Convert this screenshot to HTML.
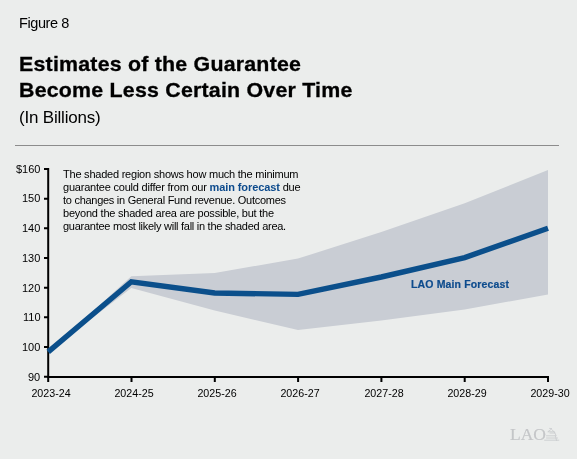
<!DOCTYPE html>
<html><head><meta charset="utf-8">
<style>
html,body{margin:0;padding:0;}
body{width:577px;height:459px;background:#ebedec;position:relative;overflow:hidden;font-family:"Liberation Sans",sans-serif;color:#000;}
.t{position:absolute;white-space:nowrap;line-height:1;will-change:transform;}
#fig{left:19px;top:15.8px;font-size:14.5px;letter-spacing:-0.4px;}
.title{left:18.6px;font-size:20.4px;font-weight:bold;letter-spacing:0.2px;transform:scaleX(1.048);transform-origin:0 0;-webkit-text-stroke:0.3px #000;}
#t1{top:54px;}
#t2{top:79.5px;}
#sub{left:19px;top:108.6px;font-size:17px;letter-spacing:-0.2px;}
#rule{position:absolute;left:15px;top:145px;width:544px;height:1px;background:#8c8c8c;}
.ann{left:63px;font-size:11px;letter-spacing:-0.25px;}
.ann b{color:#0d4b8d;}
.yl{position:absolute;right:536.5px;font-size:11px;text-align:right;}
.xl{position:absolute;font-size:10.7px;width:60px;text-align:center;}
#lbl{left:410.6px;top:279.2px;font-size:10.5px;font-weight:bold;color:#0d4b8d;letter-spacing:0.14px;-webkit-text-stroke:0.2px #0d4b8d;}
</style></head><body>
<div class="t" id="fig">Figure 8</div>
<div class="t title" id="t1">Estimates of the Guarantee</div>
<div class="t title" id="t2">Become Less Certain Over Time</div>
<div class="t" id="sub">(In Billions)</div>
<div id="rule"></div>

<svg width="577" height="459" style="position:absolute;left:0;top:0" xmlns="http://www.w3.org/2000/svg">
  <polygon fill="#c9cdd4" points="48.2,351.9 131.3,276.3 214.7,272.9 298,258.6 381.3,231.9 464.7,203.3 548,169.9 548,294.5 464.7,309.4 381.3,320.6 298,330.1 214.7,310.5 131.3,288"/>
  <g stroke="#000" stroke-width="2" fill="none">
    <path d="M48.2,168 V377"/>
    <path d="M47.2,377 H549"/>
    <path d="M44,169 H48.2 M44,198.7 H48.2 M44,228.3 H48.2 M44,258 H48.2 M44,287.7 H48.2 M44,317.3 H48.2 M44,347 H48.2 M44,376.7 H48.2"/>
    <path d="M48.2,377 V382 M131.5,377 V382 M214.8,377 V382 M298.1,377 V382 M381.4,377 V382 M464.7,377 V382 M548,377 V382"/>
  </g>
  <polyline fill="none" stroke="#0b4f8b" stroke-width="5.4" stroke-linejoin="miter" stroke-linecap="butt" points="48.2,351.9 131.3,281.8 214.7,293 298,294.4 381.3,277 464.7,257.6 548,228.3"/>
</svg>

<div class="t ann" style="top:169px;letter-spacing:-0.225px">The shaded region shows how much the minimum</div>
<div class="t ann" style="top:182px;letter-spacing:-0.21px">guarantee could differ from our <b style="letter-spacing:-0.1px">main forecast</b> due</div>
<div class="t ann" style="top:195px;letter-spacing:-0.275px">to changes in General Fund revenue. Outcomes</div>
<div class="t ann" style="top:208px;letter-spacing:-0.225px">beyond the shaded area are possible, but the</div>
<div class="t ann" style="top:221px;letter-spacing:-0.27px">guarantee most likely will fall in the shaded area.</div>

<div class="t yl" style="top:164.3px">$160</div>
<div class="t yl" style="top:193.4px">150</div>
<div class="t yl" style="top:223.4px">140</div>
<div class="t yl" style="top:253.2px">130</div>
<div class="t yl" style="top:283px">120</div>
<div class="t yl" style="top:312.4px">110</div>
<div class="t yl" style="top:342.2px">100</div>
<div class="t yl" style="top:372px">90</div>

<div class="t xl" style="left:20.5px;top:388px">2023-24</div>
<div class="t xl" style="left:103.8px;top:388px">2024-25</div>
<div class="t xl" style="left:187.1px;top:388px">2025-26</div>
<div class="t xl" style="left:270.4px;top:388px">2026-27</div>
<div class="t xl" style="left:353.7px;top:388px">2027-28</div>
<div class="t xl" style="left:437px;top:388px">2028-29</div>
<div class="t xl" style="left:520.3px;top:388px">2029-30</div>

<div class="t" id="lbl">LAO Main Forecast</div>

<div class="t" style="left:509.6px;top:426.3px;font-family:'Liberation Serif',serif;font-size:17.5px;color:#c4c6c8;letter-spacing:0px;-webkit-text-stroke:0.2px #c4c6c8">LAO</div>
<svg width="20" height="20" viewBox="0 0 20 20" style="position:absolute;left:543px;top:425px" xmlns="http://www.w3.org/2000/svg">
  <g fill="none" stroke="#cbcdcf" stroke-width="0.9" stroke-linecap="round">
    <path d="M6.6,3.4 L8.6,3.6"/>
    <path d="M5.2,6.5 L8.2,4.3"/>
    <path d="M8.8,4.6 Q11.6,6.2 13,10.2"/>
    <path d="M5.2,6.8 H11.4"/>
    <path d="M7,8 H12"/>
    <path d="M3.5,10.8 H13"/>
    <path d="M12.2,10.5 L13.6,15.6"/>
    <path d="M3.5,13 H14.5"/>
    <path d="M1.6,15.2 H15.8"/>
  </g>
</svg>
</body></html>
